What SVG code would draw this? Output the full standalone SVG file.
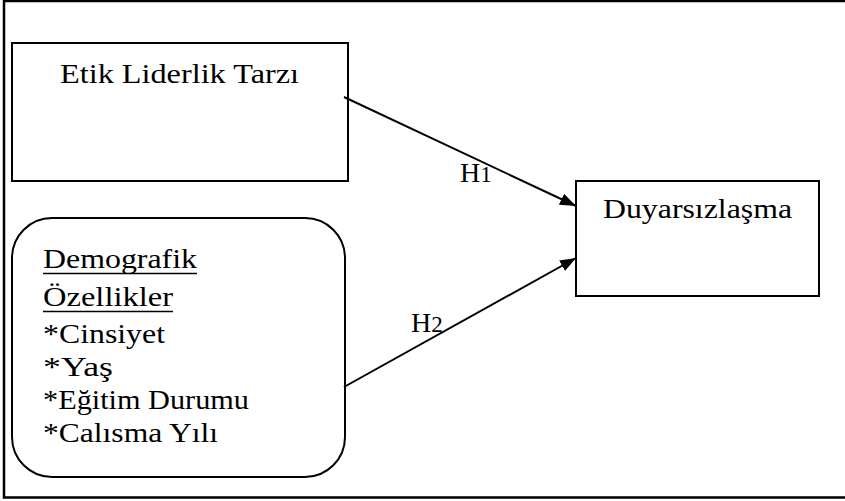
<svg xmlns="http://www.w3.org/2000/svg" width="845" height="501" viewBox="0 0 845 501">
<defs>
<marker id="arr" viewBox="0 0 16 12" refX="16" refY="6" markerWidth="16" markerHeight="12" markerUnits="userSpaceOnUse" orient="auto">
<path d="M0,0 L16,6 L0,12 Z" fill="#000"/>
</marker>
<style>
.box{fill:#fff;stroke:#000;stroke-width:2}
.con{stroke:#000;stroke-width:2;fill:none}
</style>
</defs>
<rect width="845" height="501" fill="#fff"/>
<path d="M845,1 H4 V497.5 H845" fill="none" stroke="#000" stroke-width="2.5"/>
<g font-family="Liberation Serif, serif" font-size="28" fill="#000">
<g id="etik">
<rect class="box" x="12" y="43" width="336" height="138"/>
<text x="60" y="82.5" textLength="239" lengthAdjust="spacingAndGlyphs">Etik Liderlik Tarzı</text>
</g>
<g id="demografik">
<rect class="box" x="12" y="218" width="333" height="259" rx="40" ry="40"/>
<text x="43" y="268" textLength="154" lengthAdjust="spacingAndGlyphs">Demografik</text>
<line x1="43" y1="273.5" x2="197" y2="273.5" stroke="#000" stroke-width="1.5"/>
<text x="43" y="306" textLength="130" lengthAdjust="spacingAndGlyphs">Özellikler</text>
<line x1="43" y1="311.5" x2="173" y2="311.5" stroke="#000" stroke-width="1.5"/>
<text x="43" y="343" textLength="122" lengthAdjust="spacingAndGlyphs">*Cinsiyet</text>
<text x="43" y="375.5" textLength="70" lengthAdjust="spacingAndGlyphs">*Yaş</text>
<text x="43" y="408.5" textLength="206" lengthAdjust="spacingAndGlyphs">*Eğitim Durumu</text>
<text x="43" y="442" textLength="175" lengthAdjust="spacingAndGlyphs">*Calısma Yılı</text>
</g>
<g id="duyarsizlasma">
<rect class="box" x="576" y="181" width="243" height="115"/>
<text x="603" y="218" textLength="189" lengthAdjust="spacingAndGlyphs">Duyarsızlaşma</text>
</g>
<g id="connectors">
<line class="con" x1="344" y1="97" x2="576" y2="206" marker-end="url(#arr)"/>
<line class="con" x1="344" y1="387" x2="576" y2="258" marker-end="url(#arr)"/>
<text x="460" y="182">H<tspan font-size="23">1</tspan></text>
<text x="411" y="332">H<tspan font-size="23">2</tspan></text>
</g>
</g>
</svg>
